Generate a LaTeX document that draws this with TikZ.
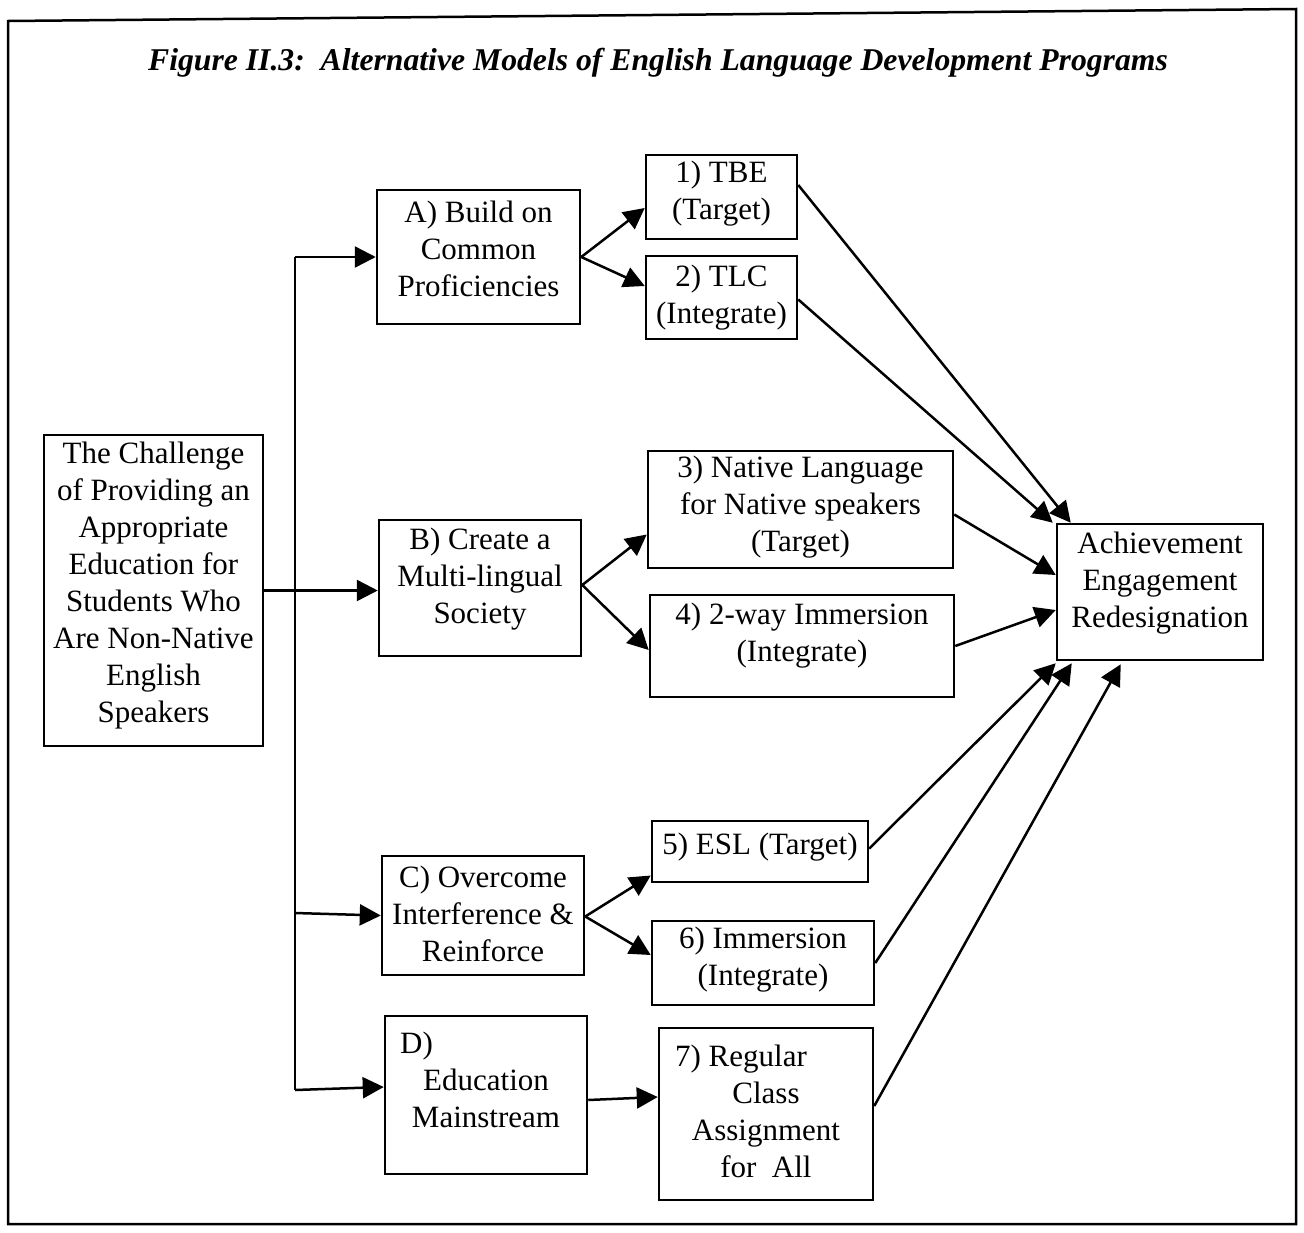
\documentclass[tikz,border=0pt]{standalone}
\usepackage{fontspec}
\setmainfont{Liberation Serif}
\usetikzlibrary{arrows.meta}
\begin{document}
\begin{tikzpicture}[x=1pt,y=-1pt,
  box/.style={draw,line width=2.5pt,rectangle,inner sep=0pt},
  txt/.style={inner sep=0pt,align=center,font=\fontsize{31}{37}\selectfont},
  arr/.style={line width=2.5pt,-{Triangle[length=21pt,width=21pt]}},
  ln/.style={line width=2.5pt}]
\useasboundingbox (0,0) rectangle (1304,1232);
% frame
\draw[line width=2.5pt] (8,21) -- (1296,9) -- (1296,1224) -- (8,1224) -- cycle;
% title
\node[inner sep=0pt,font=\fontsize{31.7}{37}\selectfont\bfseries\itshape] (title) at (658,63)
  {Figure II.3:\ \ Alternative Models of English Language Development Programs};
% boxes
\node[box,minimum width=219pt,minimum height=311pt] (ch) at (153.5,590.5) {};
\node[txt] (cht) at ([yshift=5pt]ch.center) {The Challenge\\of Providing an\\Appropriate\\Education for\\Students Who\\Are Non-Native\\English\\Speakers};
\node[box,minimum width=203pt,minimum height=134pt] (A) at (478.5,257) {};
\node[txt] (At) at ([yshift=8pt]A.center) {A) Build on\\Common\\Proficiencies};
\node[box,minimum width=202pt,minimum height=136pt] (B) at (480,588) {};
\node[txt] (Bt) at ([yshift=9pt]B.center) {B) Create a\\Multi-lingual\\Society};
\node[box,minimum width=202pt,minimum height=119pt] (C) at (483,915.5) {};
\node[txt] (Ct) at ([yshift=2pt]C.center) {C) Overcome\\Interference \&\\Reinforce};
\node[box,minimum width=202pt,minimum height=158pt] (D) at (486,1095) {};
\node[txt] (Dt) at ([yshift=15pt]D.center) {D)\hspace*{139pt}\\Education\\Mainstream};
\node[box,minimum width=151pt,minimum height=84pt] (n1) at (721.5,197) {};
\node[txt] (n1t) at ([yshift=3pt]n1.center) {1) TBE\\(Target)};
\node[box,minimum width=151pt,minimum height=83pt] (n2) at (721.5,297.5) {};
\node[txt] (n2t) at (n2.center) {2) TLC\\(Integrate)};
\node[box,minimum width=305pt,minimum height=117pt] (n3) at (800.5,509.5) {};
\node[txt] (n3t) at ([yshift=2pt]n3.center) {3) Native Language\\for Native speakers\\(Target)};
\node[box,minimum width=304pt,minimum height=102pt] (n4) at (802,646) {};
\node[txt] (n4t) at ([yshift=10pt]n4.center) {4) 2-way Immersion\\(Integrate)};
\node[box,minimum width=216pt,minimum height=61pt] (n5) at (760,851.5) {};
\node[txt] (n5t) at ([yshift=4pt]n5.center) {5) ESL (Target)};
\node[box,minimum width=222pt,minimum height=84pt] (n6) at (763,963) {};
\node[txt] (n6t) at ([yshift=3pt]n6.center) {6) Immersion\\(Integrate)};
\node[box,minimum width=214pt,minimum height=172pt] (n7) at (766,1114) {};
\node[txt] (n7t) at ([yshift=3pt]n7.center) {7) Regular\hspace*{50pt}\\Class\\Assignment\\for\ \ All};
\node[box,minimum width=206pt,minimum height=136pt] (ach) at (1160,592) {};
\node[txt] (acht) at ([yshift=9pt]ach.center) {Achievement\\Engagement\\Redesignation};
% trunk
\coordinate (tA) at (295,257);
\coordinate (tC) at (295,913);
\coordinate (tD) at (295,1090);
\draw[ln] (tA) -- (tD);
\draw[arr] (tA) -- (A.west);
\draw[arr] (ch.east) -- (B.west |- ch.east);
\draw[arr] (tC) -- (C.west);
\draw[arr] (tD) -- ([yshift=8pt]D.west);
% second level
\draw[arr] (A.east) -- ([yshift=-11pt]n1.west);
\draw[arr] (A.east) -- ([yshift=11.5pt]n2.west);
\draw[arr] ([yshift=3pt]B.east) -- ([yshift=-25pt]n3.west);
\draw[arr] ([yshift=3pt]B.east) -- ([yshift=-4pt]n4.west);
\draw[arr] ([yshift=-1pt]C.east) -- ([yshift=-24pt]n5.west);
\draw[arr] ([yshift=-1pt]C.east) -- ([yshift=8pt]n6.west);
\draw[arr] ([yshift=-5pt]D.east) -- ([yshift=17pt]n7.west);
% to outcome
\draw[arr] ([yshift=12pt]n1.east) -- ([xshift=15pt]ach.north west);
\draw[arr] ([yshift=-2pt]n2.east) -- ([xshift=-3pt]ach.north west);
\draw[arr] ([yshift=-5pt]n3.east) -- ([yshift=17pt]ach.west);
\draw[arr] (n4.east) -- ([yshift=-18pt]ach.west);
\draw[arr] ([yshift=3pt]n5.east) -- ([yshift=-2pt]ach.south west);
\draw[arr] (n6.east) -- ([xshift=16pt,yshift=-2pt]ach.south west);
\draw[arr] ([yshift=8pt]n7.east) -- ([xshift=65pt,yshift=-3pt]ach.south west);
\end{tikzpicture}
\end{document}
